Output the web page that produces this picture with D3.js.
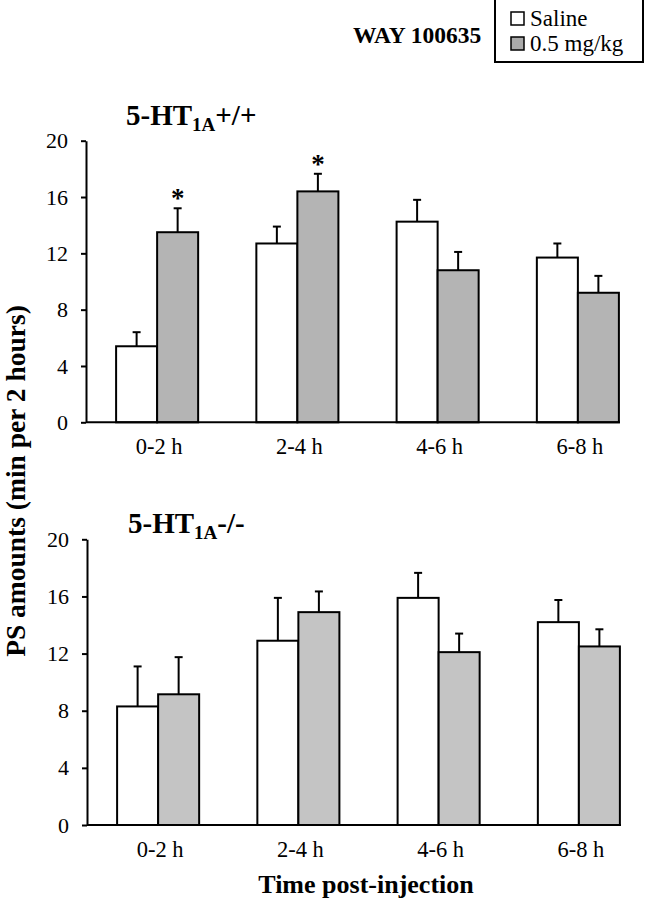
<!DOCTYPE html>
<html><head><meta charset="utf-8">
<script src="https://cdn.jsdelivr.net/npm/d3@7"></script>
<style>
html,body{margin:0;padding:0;background:#fff;}
svg{display:block;}
svg text{font-family:"Liberation Serif","Tinos","Times New Roman","DejaVu Serif",serif !important;}
</style></head>
<body>
<svg id="c" width="645" height="899"></svg>
<script>
const categories = ["0-2 h","2-4 h","4-6 h","6-8 h"];
const seriesNames = ["Saline","0.5 mg/kg"];
const yTicks = [0,4,8,12,16,20];
// 5-HT1A +/+
const wtSaline = [5.4, 12.7, 14.25, 11.7];
const wtSalineErr = [1.0, 1.2, 1.55, 1.0];
const wtWay = [13.5, 16.4, 10.8, 9.2];
const wtWayErr = [1.7, 1.25, 1.3, 1.2];
const wtWaySig = [true, true, false, false];
// 5-HT1A -/-
const koSaline = [8.3, 12.9, 15.9, 14.2];
const koSalineErr = [2.8, 3.0, 1.75, 1.55];
const koWay = [9.15, 14.9, 12.1, 12.5];
const koWayErr = [2.6, 1.45, 1.3, 1.2];
const koWaySig = [false, false, false, false];

const svg = d3.select("#c");

function panel(cfg){
  const g = svg.append("g");
  const x = d3.scaleBand().domain(categories).range([cfg.x0, cfg.x0 + 561]).paddingInner(0.415).paddingOuter(0.2075);
  const xs = d3.scaleBand().domain([0,1]).range([0, x.bandwidth()]);
  const y = d3.scaleLinear().domain([0,20]).range([cfg.yBottom, cfg.yTop]);
  const rows = categories.map((c,i)=>[
    {c, s:0, v:cfg.sal[i], e:cfg.salErr[i], sig:false},
    {c, s:1, v:cfg.way[i], e:cfg.wayErr[i], sig:cfg.sig[i]}
  ]).flat();
  rows.forEach(d=>{
    const cx = x(d.c) + xs(d.s) + xs.bandwidth()/2;
    g.append("line").attr("x1",cx).attr("x2",cx).attr("y1",y(d.v)).attr("y2",y(d.v+d.e))
      .attr("stroke","#000").attr("stroke-width",2);
    g.append("line").attr("x1",cx-4).attr("x2",cx+4).attr("y1",y(d.v+d.e)).attr("y2",y(d.v+d.e))
      .attr("stroke","#000").attr("stroke-width",2);
    if(d.sig){
      g.append("text").attr("x",cx).attr("y",y(d.v+d.e)-1).attr("text-anchor","middle")
        .attr("font-size",27).attr("font-weight","bold").text("*");
    }
  });
  g.selectAll("rect.bar").data(rows).enter().append("rect").attr("class","bar")
    .attr("x",d=>x(d.c)+xs(d.s)).attr("width",xs.bandwidth())
    .attr("y",d=>y(d.v)).attr("height",d=>y(0)-y(d.v))
    .attr("fill",d=>d.s===0?"#ffffff":cfg.gray).attr("stroke","#000").attr("stroke-width",2);
  const ya = g.append("g").attr("transform",`translate(${cfg.x0-1},0)`)
    .call(d3.axisLeft(y).tickValues(yTicks).tickSize(5).tickSizeOuter(0).tickPadding(13));
  ya.select(".domain").attr("stroke-width",2);
  ya.selectAll(".tick line").attr("stroke-width",2);
  ya.selectAll(".tick text").attr("font-size",22).attr("fill","#000");
  g.append("line").attr("x1",cfg.x0-1).attr("x2",cfg.x0+533).attr("y1",y(0)).attr("y2",y(0))
    .attr("stroke","#000").attr("stroke-width",2);
  g.selectAll("text.cat").data(categories).enter().append("text").attr("class","cat")
    .attr("x",d=>x(d)+x.bandwidth()/2+2).attr("y",cfg.yBottom+31.5).attr("text-anchor","middle")
    .attr("font-size",22.5).text(d=>d);
  const t = g.append("text").attr("x",cfg.titleX).attr("y",cfg.titleY).attr("font-weight","bold").attr("font-size",29);
  t.append("tspan").text("5-HT");
  t.append("tspan").attr("font-size",19).attr("dy",6).text("1A");
  t.append("tspan").attr("dy",-6).text(cfg.geno);
}

panel({x0:87, yTop:140.7, yBottom:422.3, sal:wtSaline, salErr:wtSalineErr, way:wtWay, wayErr:wtWayErr, sig:wtWaySig, gray:"#b4b4b4", titleX:126, titleY:125, geno:"+/+"});
panel({x0:88, yTop:539.3, yBottom:825, sal:koSaline, salErr:koSalineErr, way:koWay, wayErr:koWayErr, sig:koWaySig, gray:"#c4c4c4", titleX:128, titleY:533, geno:"-/-"});

svg.append("text").attr("transform","translate(25,481) rotate(-90)").attr("text-anchor","middle")
  .attr("font-weight","bold").attr("font-size",27.5).text("PS amounts (min per 2 hours)");
svg.append("text").attr("x",366).attr("y",893).attr("text-anchor","middle")
  .attr("font-weight","bold").attr("font-size",26).text("Time post-injection");

svg.append("text").attr("x",353).attr("y",43).attr("font-weight","bold").attr("font-size",23.5).text("WAY 100635");
svg.append("rect").attr("x",495).attr("y",-1).attr("width",148).attr("height",63).attr("fill","none").attr("stroke","#000").attr("stroke-width",2);
const lg = svg.append("g").selectAll("g").data(seriesNames).enter().append("g")
  .attr("transform",(d,i)=>`translate(511,${12+i*25})`);
lg.append("rect").attr("width",13).attr("height",13).attr("fill",(d,i)=>i===0?"#fff":"#aaaaaa").attr("stroke","#000").attr("stroke-width",1.5);
lg.append("text").attr("x",19).attr("y",14).attr("font-size",23).text(d=>d);
</script>
</body></html>
